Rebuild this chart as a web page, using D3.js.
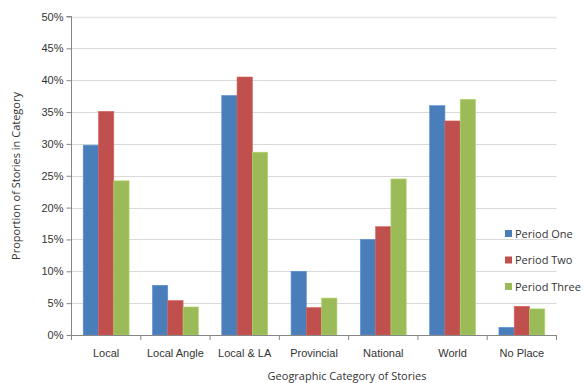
<!DOCTYPE html>
<html>
<head>
<meta charset="utf-8">
<script src="https://cdn.jsdelivr.net/npm/d3@7"></script>
<style>
  body { margin: 0; background: #fff; }
  svg { display: block; font-family: "Open Sans", "Liberation Sans", sans-serif; }
</style>
</head>
<body>
<svg id="chart" width="585" height="383"></svg>
<script>
// Geographic categories of stories
const categories = ["Local", "Local Angle", "Local & LA", "Provincial", "National", "World", "No Place"];
const seriesNames = ["Period One", "Period Two", "Period Three"];
// Proportion of stories (%) per period
const periodOne   = [29.8, 7.8, 37.6, 10.0, 15.0, 36.0, 1.2];
const periodTwo   = [35.1, 5.4, 40.5, 4.3, 17.0, 33.6, 4.5];
const periodThree = [24.2, 4.4, 28.7, 5.8, 24.5, 37.0, 4.1];
const yTicks = [0, 5, 10, 15, 20, 25, 30, 35, 40, 45, 50];
const colors = ["#4a7ebb", "#c0504d", "#9bbb59"];

const series = [periodOne, periodTwo, periodThree];
const svg = d3.select("#chart");
const m = { left: 71.5, right: 556.5, top: 16.5, bottom: 335 };

const x = d3.scaleBand().domain(categories).range([m.left, m.right]).paddingInner(0).paddingOuter(0);
const inner = d3.scaleBand().domain(seriesNames).range([0, x.bandwidth()]).paddingInner(0).paddingOuter(0.765);
const y = d3.scaleLinear().domain([0, 50]).range([m.bottom, m.top]);

// gridlines
svg.append("g")
  .selectAll("line").data(yTicks.filter(t => t > 0)).join("line")
  .attr("x1", m.left).attr("x2", m.right)
  .attr("y1", d => Math.round(y(d)) + 0.5).attr("y2", d => Math.round(y(d)) + 0.5)
  .attr("stroke", d => d === 50 ? "#e6e6e6" : "#d9d9d9")
  .attr("stroke-width", d => d === 50 ? 1.6 : 1);

// bars
const groups = svg.append("g").selectAll("g").data(categories).join("g")
  .attr("transform", d => `translate(${x(d)},0)`);
groups.selectAll("rect")
  .data((c, i) => seriesNames.map((s, j) => ({ s, v: series[j][i], j })))
  .join("rect")
  .attr("x", d => inner(d.s))
  .attr("width", inner.bandwidth())
  .attr("y", d => y(d.v))
  .attr("height", d => y(0) - y(d.v))
  .attr("fill", d => colors[d.j])
  .attr("stroke", d => d3.color(colors[d.j]).brighter(0.4))
  .attr("stroke-width", 0.6);

// y axis
const yAxis = svg.append("g").attr("transform", `translate(${m.left},0)`)
  .call(d3.axisLeft(y).tickValues(yTicks).tickFormat(d => d + "%").tickSize(5).tickPadding(3));
yAxis.select(".domain").attr("stroke", "#868686").attr("d", `M-5,${m.top}H0V${m.bottom}`);
yAxis.selectAll(".tick line").attr("stroke", "#868686");
yAxis.selectAll("text").attr("font-size", 11).attr("fill", "#333");

// x axis
const xAxis = svg.append("g").attr("transform", `translate(0,${m.bottom})`)
  .call(d3.axisBottom(x).tickSize(0).tickPadding(14));
xAxis.select(".domain").attr("stroke", "#868686");
xAxis.selectAll("text").attr("font-size", 11).attr("fill", "#333");
xAxis.selectAll(".sep").data(d3.range(categories.length + 1)).join("line")
  .attr("class", "sep")
  .attr("x1", i => m.left + i * x.step()).attr("x2", i => m.left + i * x.step())
  .attr("y1", 0).attr("y2", 5).attr("stroke", "#868686");

// axis titles
svg.append("text").attr("x", 347).attr("y", 380).attr("text-anchor", "middle")
  .attr("font-size", 11).attr("fill", "#333").text("Geographic Category of Stories");
svg.append("text").attr("transform", "translate(20,176) rotate(-90)").attr("text-anchor", "middle")
  .attr("font-size", 11).attr("fill", "#333").text("Proportion of Stories in Category");

// legend
const legend = svg.append("g").selectAll("g").data(seriesNames).join("g")
  .attr("transform", (d, i) => `translate(505,${234 + i * 26.5})`);
legend.append("rect").attr("x", 0).attr("y", -4).attr("width", 7).attr("height", 7)
  .attr("fill", (d, i) => colors[i]);
legend.append("text").attr("x", 10).attr("y", 0).attr("dy", "0.35em")
  .attr("font-size", 11).attr("fill", "#333").text(d => d);
</script>
</body>
</html>
